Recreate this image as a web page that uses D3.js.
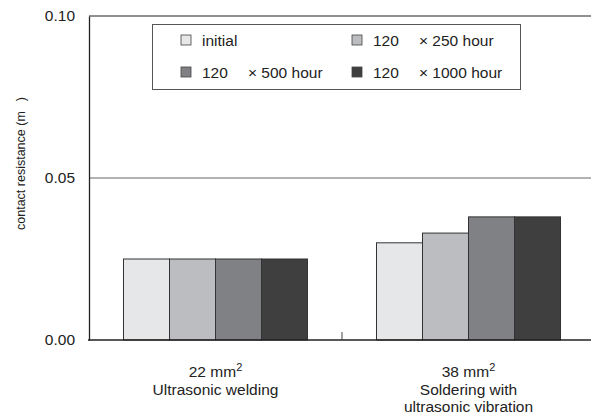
<!DOCTYPE html>
<html>
<head>
<meta charset="utf-8">
<script src="https://cdn.jsdelivr.net/npm/d3@7"></script>
<style>
  body { margin: 0; background: #fff; }
  text { font-family: "Liberation Sans", Arial, sans-serif; fill: #222; }
</style>
</head>
<body>
<svg id="chart" width="591" height="414"></svg>
<script>
// chart data
const categories = ['22mm', '38mm'];
const categoryLines = [
  ['22 mm|2', 'Ultrasonic welding'],
  ['38 mm|2', 'Soldering with', 'ultrasonic vibration']
];
const seriesNames = ['initial', '250', '500', '1000'];
const seriesValues = [
  [0.025, 0.025, 0.025, 0.025],
  [0.030, 0.033, 0.038, 0.038]
];
const seriesColors = ['#e6e7e8', '#bcbdc0', '#808184', '#3f3f3f'];
const legendLabels = [
  ['initial'],
  ['120', '\u00d7 250 hour'],
  ['120', '\u00d7 500 hour'],
  ['120', '\u00d7 1000 hour']
];
const yTicks = [0, 0.05, 0.10];

const svg = d3.select('#chart');
const margin = { top: 16, left: 89, bottom: 74 };
const plotRight = 595;
const height = 414;

const x0 = d3.scaleBand()
    .domain(categories)
    .range([margin.left, plotRight]);

const x1 = d3.scaleBand()
    .domain(seriesNames)
    .range([34.5, x0.bandwidth() - 34.5]);

const y = d3.scaleLinear()
    .domain([0, 0.10])
    .range([height - margin.bottom, margin.top]);

// gridlines / top border
svg.append('g')
  .selectAll('line')
    .data(yTicks.filter(d => d > 0))
  .enter().append('line')
    .attr('x1', margin.left)
    .attr('x2', plotRight)
    .attr('y1', d => y(d))
    .attr('y2', d => y(d))
    .attr('stroke', d => d === 0.10 ? '#222' : '#666')
    .attr('stroke-width', 1);

// bars
const groups = svg.append('g')
  .selectAll('g')
    .data(categories)
  .enter().append('g')
    .attr('transform', d => `translate(${x0(d)},0)`);

groups.selectAll('rect')
    .data((d, i) => seriesValues[i].map((v, j) => ({ key: seriesNames[j], value: v, c: j })))
  .enter().append('rect')
    .attr('x', d => x1(d.key))
    .attr('y', d => y(d.value))
    .attr('width', x1.bandwidth())
    .attr('height', d => y(0) - y(d.value))
    .attr('fill', d => seriesColors[d.c])
    .attr('stroke', '#333')
    .attr('stroke-width', 1);

// x axis with tick between groups
const xAxis = svg.append('g')
    .attr('transform', `translate(0,${y(0)})`);
xAxis.append('line')
    .attr('x1', margin.left - 1)
    .attr('x2', plotRight)
    .attr('stroke', '#222')
    .attr('stroke-width', 1.3);
xAxis.append('line')
    .attr('x1', x0(categories[1]))
    .attr('x2', x0(categories[1]))
    .attr('y1', 0)
    .attr('y2', -8)
    .attr('stroke', '#444');

// y axis
const yAxis = svg.append('g')
    .attr('transform', `translate(${margin.left},0)`)
    .call(d3.axisLeft(y).tickValues(yTicks).tickFormat(d3.format('.2f')).tickSize(0).tickPadding(14));
yAxis.select('.domain').attr('stroke', '#222').attr('stroke-width', 1.3);
yAxis.selectAll('text')
    .style('font-size', '15.5px')
    .style('font-family', '"Liberation Sans", Arial, sans-serif')
    .attr('fill', '#222');

// y label
svg.append('text')
    .attr('transform', `translate(25,230) rotate(-90)`)
    .style('font-size', '12.5px')
    .text('contact resistance (m\u2009\u2009\u2009\u2009)');

// category labels
categoryLines.forEach((lines, i) => {
  const cx = x0(categories[i]) + x0.bandwidth() / 2;
  lines.forEach((line, k) => {
    const t = svg.append('text')
        .attr('x', cx)
        .attr('y', 377 + k * 17.5)
        .attr('text-anchor', 'middle')
        .style('font-size', '15.5px');
    const parts = line.split('|');
    t.append('tspan').text(parts[0]);
    if (parts[1]) {
      t.append('tspan')
          .attr('dy', -6)
          .style('font-size', '11px')
          .text(parts[1]);
    }
  });
});

// legend
const legend = svg.append('g');
legend.append('rect')
    .attr('x', 152.5)
    .attr('y', 24.5)
    .attr('width', 368)
    .attr('height', 65)
    .attr('fill', '#fff')
    .attr('stroke', '#555')
    .attr('stroke-width', 1);

const legendPos = [[181, 35], [352, 35], [181, 67], [352, 67]];
legendLabels.forEach((lab, i) => {
  const [lx, ly] = legendPos[i];
  legend.append('rect')
      .attr('x', lx)
      .attr('y', ly)
      .attr('width', 10)
      .attr('height', 10)
      .attr('fill', seriesColors[i])
      .attr('stroke', '#444')
      .attr('stroke-width', 0.8);
  legend.append('text')
      .attr('x', lx + 21)
      .attr('y', ly + 10.5)
      .style('font-size', '15.5px')
      .text(lab[0]);
  if (lab[1]) {
    legend.append('text')
        .attr('x', lx + 67)
        .attr('y', ly + 10.5)
        .style('font-size', '15.5px')
        .text(lab[1]);
  }
});
</script>
</body>
</html>
